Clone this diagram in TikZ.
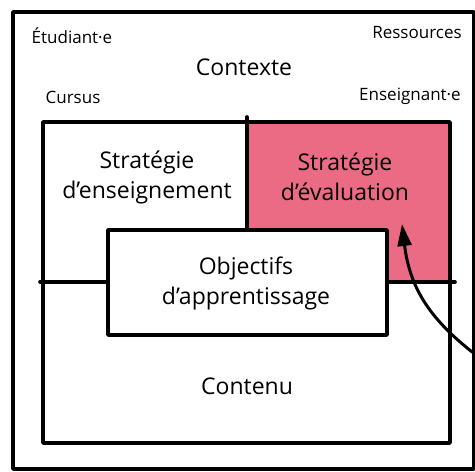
\documentclass[tikz,border=0pt]{standalone}
\usepackage{fontspec}
\setmainfont{Open Sans}
\usetikzlibrary{arrows.meta}
\definecolor{evalpink}{RGB}{236,107,132}
\tikzset{
  frame/.style={line width=3.6pt, line join=round, line cap=round},
  big/.style={font=\fontsize{23}{30}\selectfont, align=center, inner sep=0pt},
  small/.style={font=\fontsize{17}{20}\selectfont, inner sep=0pt},
  flow/.style={line width=3pt, -{Triangle[length=22pt,width=14pt]}}
}
\begin{document}
\begin{tikzpicture}[x=1pt,y=-1pt]
\useasboundingbox (0,0) rectangle (475,472);
\begin{scope}
\clip (0,0) rectangle (475,472);
% outer frame (context)
\draw[frame] (13,12) rectangle (474,469);
% pink evaluation region
\fill[evalpink] (247,122) rectangle (450,282);
% inner box
\draw[frame] (43,122) rectangle (450,443);
\draw[frame] (247,117) -- (247,230);
\draw[frame] (40,282) -- (455,282);
% objectives box
\draw[frame, fill=white] (108,230) rectangle (387,335);
% texts
\node[small] (etu) at (72,36) {Étudiant·e};
\node[small] (res) at (417,33) {Ressources};
\node[big] (ctx) at (244,67) {Contexte};
\node[small] (cur) at (73,97) {Cursus};
\node[small] (ens) at (410,96) {Enseignant·e};
\node[big] (sens) at (147,177) {Stratégie\\d’enseignement};
\node[big] (seval) at (345,177) {Stratégie\\d’évaluation};
\node[big] (obj) at (246,283) {Objectifs\\d’apprentissage};
\node[big] (cont) at (247,386) {Contenu};
% arrow
\coordinate (src) at (480,358);
\coordinate (tip) at (402,224);
\draw[flow] (src) .. controls (432,322) and (410,290) .. (tip);
\end{scope}
\end{tikzpicture}
\end{document}
